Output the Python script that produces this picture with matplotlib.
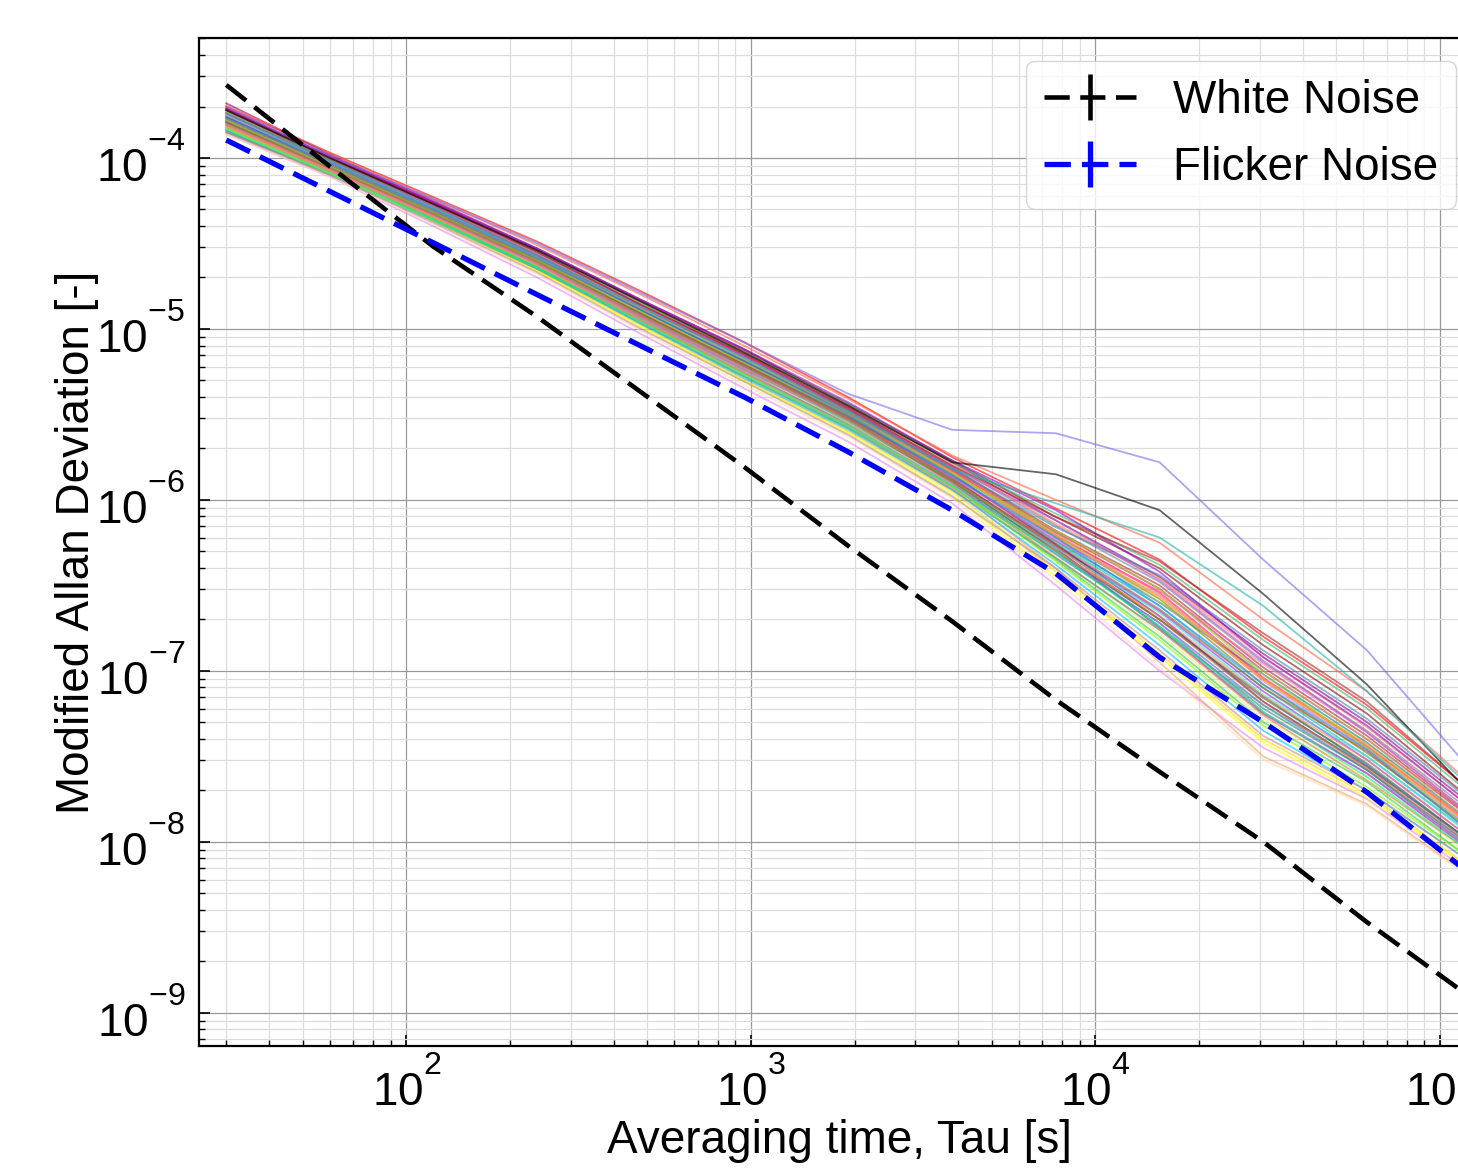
import numpy as np
import matplotlib
matplotlib.use("Agg")
import matplotlib.pyplot as plt

plt.rcParams['font.family'] = ['Liberation Sans', 'DejaVu Sans']
plt.rcParams['mathtext.fontset'] = 'custom'
plt.rcParams['mathtext.rm'] = 'Liberation Sans'
plt.rcParams['mathtext.it'] = 'Liberation Sans'

# raise the exponents a bit, like the original tick labels
try:
    import matplotlib._mathtext as _mt
    _mt.FontConstantsBase.sup1 = 1.25
except Exception:
    pass

# averaging times [s]
tau = [30, 60, 120, 240, 480, 960, 1920, 3840, 7680, 15360, 30720, 61440, 122880]

# reference noise lines, log10 of modified Allan deviation
white_log = [-3.573, -4.05, -4.52, -4.93, -5.37, -5.81, -6.27, -6.71, -7.17, -7.59, -8.00, -8.47, -8.91]
flicker_log = [-3.895, -4.196, -4.497, -4.80, -5.10, -5.40, -5.72, -6.06, -6.43, -6.92, -7.30, -7.71, -8.19]
zero_err = [0] * 13

# individual runs, log10 of modified Allan deviation
runs_log = [
    [-3.70, -3.97, -4.23, -4.49, -4.78, -5.08, -5.40, -5.75, -6.05, -6.35, -6.80, -7.20, -7.70],
    [-3.68, -3.98, -4.25, -4.53, -4.83, -5.12, -5.45, -5.78, -6.12, -6.45, -6.90, -7.30, -7.78],
    [-3.85, -4.09, -4.35, -4.64, -4.95, -5.26, -5.55, -5.89, -6.30, -6.70, -7.15, -7.55, -8.00],
    [-3.74, -4.02, -4.28, -4.58, -4.88, -5.18, -5.48, -5.83, -6.20, -6.55, -7.05, -7.45, -7.90],
    [-3.80, -4.06, -4.33, -4.60, -4.92, -5.22, -5.52, -5.85, -6.25, -6.62, -7.10, -7.50, -7.95],
    [-3.76, -4.04, -4.30, -4.59, -4.90, -5.20, -5.50, -5.87, -6.28, -6.75, -7.25, -7.60, -8.05],
    [-3.82, -4.07, -4.37, -4.66, -4.98, -5.30, -5.60, -5.95, -6.42, -6.90, -7.40, -7.72, -8.15],
    [-3.72, -4.01, -4.27, -4.55, -4.86, -5.15, -5.47, -5.81, -6.18, -6.50, -6.98, -7.38, -7.85],
    [-3.83, -4.08, -4.34, -4.62, -4.93, -5.24, -5.53, -5.90, -6.32, -6.72, -7.20, -7.58, -8.02],
    [-3.78, -4.03, -4.31, -4.60, -4.91, -5.19, -5.49, -5.84, -6.22, -6.58, -7.08, -7.48, -7.92],
    [-3.86, -4.11, -4.40, -4.70, -5.03, -5.35, -5.66, -6.02, -6.50, -7.00, -7.45, -7.75, -8.18],
    [-3.75, -4.03, -4.29, -4.57, -4.87, -5.17, -5.46, -5.80, -6.15, -6.48, -6.95, -7.35, -7.82],
    [-3.71, -3.99, -4.26, -4.54, -4.84, -5.13, -5.44, -5.77, -6.10, -6.40, -6.85, -7.25, -7.75],
    [-3.84, -4.09, -4.36, -4.65, -4.96, -5.28, -5.58, -5.92, -6.35, -6.80, -7.30, -7.65, -8.10],
    [-3.81, -4.07, -4.35, -4.63, -4.95, -5.27, -5.57, -5.93, -6.40, -6.95, -7.50, -7.78, -8.20],
    [-3.77, -4.04, -4.32, -4.61, -4.93, -5.23, -5.54, -5.88, -6.27, -6.65, -7.12, -7.52, -7.98],
    [-3.79, -4.05, -4.32, -4.59, -4.89, -5.20, -5.51, -5.86, -6.24, -6.60, -7.02, -7.42, -7.88],
    [-3.73, -4.00, -4.27, -4.56, -4.85, -5.14, -5.45, -5.79, -6.14, -6.46, -6.92, -7.33, -7.80],
    [-3.84, -4.08, -4.36, -4.64, -4.97, -5.29, -5.59, -5.94, -6.38, -6.85, -7.35, -7.70, -8.12],
    [-3.80, -4.06, -4.34, -4.62, -4.94, -5.25, -5.55, -5.91, -6.33, -6.78, -7.28, -7.62, -8.08],
    [-3.76, -4.03, -4.30, -4.58, -4.89, -5.19, -5.49, -5.85, -6.26, -6.68, -7.18, -7.56, -8.00],
    [-3.82, -4.08, -4.35, -4.63, -4.94, -5.26, -5.56, -5.92, -6.36, -6.82, -7.32, -7.68, -8.10],
    [-3.74, -4.01, -4.28, -4.57, -4.88, -5.16, -5.47, -5.82, -6.19, -6.52, -7.00, -7.40, -7.86],
    [-3.79, -4.06, -4.33, -4.61, -4.92, -5.22, -5.53, -5.89, -6.30, -6.74, -7.22, -7.58, -8.04],
    [-3.75, -4.02, -4.29, -4.58, -4.90, -5.21, -5.52, -5.86, -6.23, -6.56, -7.06, -7.46, -7.91],
    [-3.81, -4.07, -4.34, -4.62, -4.93, -5.24, -5.54, -5.90, -6.34, -6.76, -7.26, -7.64, -8.06],
    [-3.78, -4.05, -4.31, -4.60, -4.91, -5.21, -5.51, -5.87, -6.29, -6.70, -7.16, -7.54, -8.00],
    [-3.83, -4.09, -4.37, -4.66, -4.99, -5.31, -5.61, -5.97, -6.45, -6.92, -7.42, -7.74, -8.16],
    [-3.72, -4.00, -4.26, -4.55, -4.86, -5.16, -5.48, -5.83, -6.21, -6.54, -7.04, -7.44, -7.89],
    [-3.80, -4.05, -4.33, -4.61, -4.92, -5.23, -5.54, -5.88, -6.28, -6.66, -7.14, -7.50, -7.96],
    [-3.77, -4.04, -4.31, -4.59, -4.90, -5.20, -5.50, -5.84, -6.21, -6.57, -7.05, -7.43, -7.90],
    [-3.79, -4.06, -4.33, -4.62, -4.94, -5.25, -5.56, -5.91, -6.31, -6.72, -7.24, -7.60, -8.03],
    [-3.86, -4.11, -4.39, -4.68, -5.01, -5.33, -5.63, -5.99, -6.47, -6.98, -7.52, -7.79, -8.21],
    [-3.69, -3.97, -4.24, -4.51, -4.80, -5.10, -5.41, -5.74, -6.00, -6.25, -6.70, -7.12, -7.66],
    [-3.73, -4.01, -4.27, -4.55, -4.85, -5.14, -5.44, -5.78, -6.08, -6.38, -6.82, -7.22, -7.72],
    [-3.77, -4.04, -4.31, -4.59, -4.89, -5.18, -5.48, -5.82, -6.16, -6.44, -6.88, -7.28, -7.76],
    [-3.81, -4.07, -4.34, -4.62, -4.93, -5.23, -5.53, -5.87, -6.24, -6.53, -6.96, -7.36, -7.84],
    [-3.75, -4.03, -4.30, -4.58, -4.88, -5.18, -5.49, -5.84, -6.20, -6.60, -7.00, -7.40, -7.88],
    [-3.79, -4.05, -4.32, -4.60, -4.91, -5.21, -5.52, -5.88, -6.26, -6.64, -7.10, -7.47, -7.94],
    [-3.84, -4.10, -4.37, -4.65, -4.97, -5.28, -5.58, -5.94, -6.34, -6.76, -7.20, -7.55, -8.01],
    [-3.71, -3.99, -4.26, -4.53, -4.83, -5.12, -5.43, -5.77, -6.06, -6.42, -6.92, -7.32, -7.80],
    [-3.78, -4.05, -4.32, -4.60, -4.90, -5.20, -5.50, -5.85, -6.18, -6.52, -7.02, -7.45, -7.93],
    [-3.82, -4.08, -4.35, -4.63, -4.95, -5.26, -5.57, -5.93, -6.30, -6.68, -7.15, -7.52, -7.98],
    [-3.76, -4.03, -4.30, -4.58, -4.89, -5.19, -5.50, -5.86, -6.22, -6.62, -7.08, -7.46, -7.94],
    [-3.80, -4.06, -4.33, -4.61, -4.92, -5.22, -5.53, -5.89, -6.27, -6.70, -7.18, -7.57, -8.02],
    [-3.74, -4.02, -4.28, -4.56, -4.87, -5.16, -5.46, -5.81, -6.12, -6.47, -6.94, -7.36, -7.84],
    [-3.83, -4.09, -4.36, -4.64, -4.96, -5.27, -5.57, -5.92, -6.31, -6.74, -7.24, -7.62, -8.06],
    [-3.85, -4.10, -4.38, -4.67, -5.00, -5.31, -5.62, -5.98, -6.40, -6.88, -7.38, -7.70, -8.12],
    [-3.72, -4.00, -4.27, -4.55, -4.86, -5.15, -5.46, -5.80, -6.10, -6.36, -6.78, -7.18, -7.70],
    [-3.70, -3.99, -4.24, -4.50, -4.79, -5.08, -5.38, -5.59, -5.61, -5.78, -6.35, -6.88, -7.58],
    [-3.72, -4.00, -4.27, -4.54, -4.84, -5.14, -5.45, -5.78, -5.85, -6.06, -6.55, -7.08, -7.72],
    [-3.74, -4.02, -4.29, -4.57, -4.87, -5.17, -5.48, -5.82, -6.02, -6.22, -6.62, -7.12, -7.68],
]
run_colors = ['red', 'purple', 'green', 'darkorange', 'c', 'm', 'gold', 'brown', 'royalblue',
              'olive', 'violet', 'slategray', 'darkred', 'limegreen', 'sandybrown', 'blueviolet',
              'teal', 'coral', 'deepskyblue', 'khaki', 'indigo', 'lawngreen', 'crimson', 'seagreen',
              'orchid', 'peru', 'dimgray', 'yellow', 'deeppink', 'turquoise', 'orange',
              'mediumpurple', 'peachpuff', 'tomato', 'mediumseagreen', 'steelblue', 'hotpink',
              'darkkhaki', 'sienna', 'cadetblue', 'darkviolet', 'yellowgreen', 'salmon',
              'dodgerblue', 'chocolate', 'mediumorchid', 'springgreen', 'rosybrown', 'firebrick',
              'mediumslateblue', 'black', 'lightseagreen']

fig = plt.figure(figsize=(14.58, 11.7), dpi=100)
ax = fig.add_axes([0.1365, 0.106, 0.878, 0.8615])

for vals, col in zip(runs_log, run_colors):
    ax.plot(tau, np.power(10.0, vals), color=col, lw=1.3, alpha=0.6)

ax.errorbar(tau, np.power(10.0, white_log), yerr=zero_err, fmt='--', color='black',
            lw=3.3, elinewidth=3.3, dashes=(5.5, 2.3), label='White Noise', zorder=5)
ax.errorbar(tau, np.power(10.0, flicker_log), yerr=zero_err, fmt='--', color='blue',
            lw=3.8, elinewidth=3.8, dashes=(5.0, 2.1), label='Flicker Noise', zorder=6)

ax.set_xscale('log')
ax.set_yscale('log')
ax.set_xlim(25, 1.3e5)
ax.set_ylim(6.4e-10, 5.03e-4)

ax.grid(True, which='major', color='#999999', lw=0.9)
ax.grid(True, which='minor', color='#dddddd', lw=0.9)
ax.tick_params(which='both', direction='in', labelsize=33)
ax.tick_params(which='major', length=8, width=1.2)
ax.tick_params(which='minor', length=4, width=1.0)
ax.tick_params(axis='x', which='both', pad=9)
ax.tick_params(axis='y', which='both', pad=10)
for s in ax.spines.values():
    s.set_linewidth(1.6)

ax.set_xlabel('Averaging time, Tau [s]', fontsize=33, labelpad=2)
ax.set_ylabel('Modified Allan Deviation [-]', fontsize=33, labelpad=-2)
ax.legend(loc='upper right', fontsize=33)

fig.savefig('out.png', dpi=100)
